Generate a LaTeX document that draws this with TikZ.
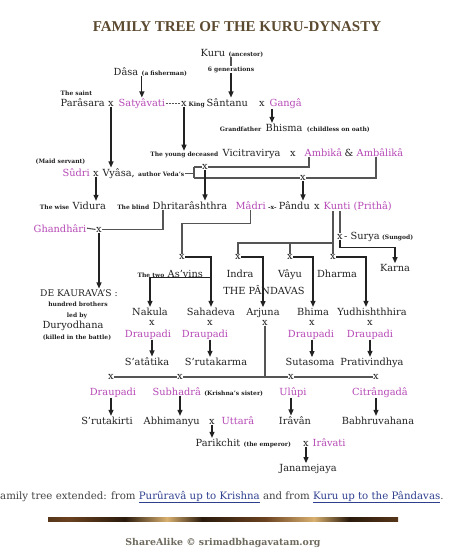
\documentclass[tikz,border=0pt]{standalone}
\usepackage{fontspec}
\setmainfont{DejaVu Serif}
\newfontfamily\titlefont{Liberation Serif}
\usepackage{xcolor}
\usetikzlibrary{arrows.meta, positioning}
\definecolor{ink}{HTML}{222222}
\definecolor{purp}{HTML}{B548B5}
\definecolor{lgray}{HTML}{555555}
\definecolor{titlebrown}{HTML}{5C4A30}
\definecolor{linkblue}{HTML}{2E3F8F}
\definecolor{creditgray}{HTML}{6E6A5E}
\definecolor{bardark}{HTML}{2A1A0C}
\definecolor{barbrown}{HTML}{6A4220}
\definecolor{bargold}{HTML}{D8B070}
\newcommand{\lnk}[1]{\textcolor{linkblue}{\underline{#1}}}
\pgfdeclarehorizontalshading{barshade}{100bp}{
  color(0bp)=(bardark); color(8bp)=(barbrown); color(13bp)=(bargold);
  color(18bp)=(bardark); color(28bp)=(barbrown); color(36bp)=(bardark);
  color(42bp)=(bargold); color(47bp)=(bardark); color(56bp)=(barbrown);
  color(63bp)=(bargold); color(68bp)=(bardark); color(78bp)=(barbrown);
  color(86bp)=(bardark); color(93bp)=(red!45!barbrown); color(100bp)=(bardark)}

\begin{document}
\begin{tikzpicture}[
    x=1pt, y=-1pt,
    person/.style={font=\fontsize{9.8}{12}\selectfont, text=ink, inner sep=0.5pt},
    wife/.style={person, text=purp},
    note/.style={font=\bfseries\fontsize{6}{7}\selectfont, text=ink, inner sep=0.5pt},
    wed/.style={font=\fontsize{9.8}{12}\selectfont, text=ink, inner sep=0.5pt},
    ln/.style={draw=lgray, line width=1.1pt},
    arr/.style={-{Triangle[length=6pt, width=5pt]}, line width=1.1pt, ink},
    foot/.style={font=\fontsize{10.2}{12}\selectfont, text=ink!85, inner sep=0pt},
  ]
    \useasboundingbox (0,0) rectangle (474,555);
    \node[font=\titlefont\bfseries\fontsize{15}{17}\selectfont, text=titlebrown, anchor=base] (title) at (237,31) {FAMILY TREE OF THE KURU-DYNASTY};

    \node[person, anchor=base west] (kuru) at (200,56) {Kuru};
    \node[note, base right=2pt of kuru] (ancestor) {(ancestor)};
    \node[note, anchor=base] (gen) at (231,71) {6 generations};
    \node[person, anchor=base west] (dasa) at (113,75) {Dâsa};
    \node[note, base right=2pt of dasa] (fisher) {(a fisherman)};

    \node[person, anchor=base west] (parasara) at (60,106) {Parâsara};
    \node[note, anchor=base west] (saint) at (60,95) {The saint};
    \node[wed, anchor=base] (w1) at (111,106) {x};
    \node[wife, anchor=base west] (satya) at (118,106) {Satyâvati};
    \node[wed, anchor=base] (w2) at (184,106) {x};
    \node[person, anchor=base west] (santanu) at (206,106) {Sântanu};
    \node[note, base left=0.5pt of santanu] (king) {King};
    \node[wed, anchor=base] (w3) at (262,106) {x};
    \node[wife, anchor=base west] (ganga) at (269,106) {Gangâ};

    \node[person, anchor=base west] (bhisma) at (265,131) {Bhisma};
    \node[note, base left=3pt of bhisma] (gfather) {Grandfather};
    \node[note, base right=3pt of bhisma] (oath) {(childless on oath)};

    \node[person, anchor=base west] (vicit) at (222,156) {Vicitravirya};
    \node[note, base left=3pt of vicit] (young) {The young deceased};
    \node[wed, anchor=base] (w4) at (293,156) {x};
    \node[wife, anchor=base west] (ambika) at (304,156) {Ambikâ};
    \node[person, anchor=base] (amp) at (349,156) {\&};
    \node[wife, anchor=base west] (ambalika) at (356,156) {Ambâlikâ};

    \node[note, anchor=base west] (maid) at (35,163) {(Maid servant)};
    \node[wife, anchor=base west] (sudri) at (62,176) {Sûdri};
    \node[wed, anchor=base] (w5) at (96,176) {x};
    \node[person, anchor=base west] (vyasa) at (102,176) {Vyâsa,};
    \node[note, base right=2pt of vyasa] (veda) {author Veda's};
    \coordinate (brk) at (194,172);
    \node[wed] (w6) at (205,167) {x};
    \node[wed] (w7) at (303,178) {x};

    \node[person, anchor=base west] (vidura) at (72,209) {Vidura};
    \node[note, base left=2pt of vidura] (wise) {The wise};
    \node[person, anchor=base west] (dhrita) at (152,209) {Dhritarâshthra};
    \node[note, base left=2pt of dhrita] (blind) {The blind};
    \node[wife, anchor=base west] (madri) at (235,209) {Mâdri};
    \node[note, base right=1pt of madri] (w8) {-x-};
    \node[person, base right=1pt of w8] (pandu) {Pându};
    \node[wed, anchor=base] (w9) at (317,209) {x};
    \node[wife, anchor=base west] (kunti) at (323,209) {Kunti (Prithâ)};

    \node[wife, anchor=base west] (gandhari) at (33,232) {Ghandhâri};
    \node[wed, anchor=base] (w10) at (99,232) {x};
    \node[wed, anchor=base] (w15) at (340,239) {x};
    \node[person, base right=0pt of w15] (surya) {- Surya};
    \node[note, base right=1pt of surya] (sungod) {(Sungod)};

    \node[wed] (w11) at (182,257) {x};
    \node[wed] (w12) at (238,257) {x};
    \node[wed] (w13) at (290,257) {x};
    \node[wed] (w14) at (333,257) {x};
    \coordinate (kb) at (333,243);

    \node[person, anchor=base west] (asvins) at (167,277) {As'vins};
    \node[note, base left=2pt of asvins] (two) {The two};
    \node[person, anchor=base] (indra) at (240,277) {Indra};
    \node[person, anchor=base] (vayu) at (290,277) {Vâyu};
    \node[person, anchor=base] (dharma) at (337,277) {Dharma};
    \node[person, anchor=base] (karna) at (395,271) {Karna};
    \node[person, anchor=base] (pandavas) at (264,294) {THE PÂNDAVAS};

    \node[person, font=\fontsize{9.2}{11}\selectfont, anchor=base] (kaurava) at (79,296) {DE KAURAVA'S :};
    \node[note, anchor=base] (hundred) at (78,306) {hundred brothers};
    \node[note, anchor=base] (ledby) at (77,317) {led by};
    \node[person, anchor=base] (duryo) at (73,328) {Duryodhana};
    \node[note, anchor=base] (killed) at (77,339) {(killed in the battle)};

    \node[person, anchor=base] (nakula) at (150,315) {Nakula};
    \node[person, anchor=base] (sahadeva) at (211,315) {Sahadeva};
    \node[person, anchor=base] (arjuna) at (263,315) {Arjuna};
    \node[person, anchor=base] (bhima) at (313,315) {Bhima};
    \node[person, anchor=base] (yudhi) at (372,315) {Yudhishthhira};
    \node[wed, anchor=base] (w16) at (152,325) {x};
    \node[wed, anchor=base] (w17) at (210,325) {x};
    \node[wed, anchor=base] (w18) at (265,325) {x};
    \node[wed, anchor=base] (w19) at (312,325) {x};
    \node[wed, anchor=base] (w20) at (370,325) {x};
    \node[wife, anchor=base] (dr1) at (148,337) {Draupadi};
    \node[wife, anchor=base] (dr2) at (205,337) {Draupadi};
    \node[wife, anchor=base] (dr3) at (311,337) {Draupadi};
    \node[wife, anchor=base] (dr4) at (370,337) {Draupadi};
    \node[person, anchor=base] (satatika) at (147,365) {S'atâtika};
    \node[person, anchor=base] (srutakarma) at (216,365) {S'rutakarma};
    \node[person, anchor=base] (sutasoma) at (310,365) {Sutasoma};
    \node[person, anchor=base] (prativ) at (372,365) {Prativindhya};

    \node[wed] (w21) at (111,377) {x};
    \node[wed] (w22) at (180,377) {x};
    \node[wed] (w23) at (291,377) {x};
    \node[wed] (w24) at (376,377) {x};
    \node[wife, anchor=base] (dr5) at (113,395) {Draupadi};
    \node[wife, anchor=base west] (subhadra) at (152,395) {Subhadrâ};
    \node[note, base right=2pt of subhadra] (sister) {(Krishna's sister)};
    \node[wife, anchor=base] (ulupi) at (293,395) {Ulûpi};
    \node[wife, anchor=base] (citra) at (380,395) {Citrângadâ};

    \node[person, anchor=base] (srutakirti) at (107,424) {S'rutakirti};
    \node[person, anchor=base west] (abhi) at (143,424) {Abhimanyu};
    \node[wed, anchor=base] (w25) at (212,424) {x};
    \node[wife, anchor=base west] (uttara) at (221,424) {Uttarâ};
    \node[person, anchor=base] (iravan) at (295,424) {Irâvân};
    \node[person, anchor=base] (babhru) at (378,424) {Babhruvahana};
    \node[person, anchor=base west] (parikchit) at (195,446) {Parikchit};
    \node[note, base right=2pt of parikchit] (emperor) {(the emperor)};
    \node[wed, anchor=base] (w26) at (306,446) {x};
    \node[wife, anchor=base west] (iravati) at (312,446) {Irâvati};
    \node[person, anchor=base] (janam) at (308,471) {Janamejaya};

    \draw[ln] (kuru.south -| gen) -- (gen.north);
    \draw[arr] (gen.south) -- (gen.south |- santanu.north);
    \draw[arr] (satya.north |- dasa.south) -- (satya.north);
    \draw[ln, dash pattern=on 2pt off 1pt] (satya.east |- w2) -- (w2.west);
    \draw[arr] (w1.south) -- (w1.south |- vyasa.north);
    \draw[arr] (w2.south) -- (w2.south |- young.north);
    \draw[arr] ([xshift=3pt]ganga.south west) -- ([xshift=3pt]ganga.south west |- bhisma.north);

    \draw[ln] (veda.east) -- (veda.east -| brk);
    \draw[ln] (w6.west -| brk) -- (w7.west -| brk);
    \draw[ln] (w6.west -| brk) -- (w6.west);
    \draw[ln] (w7.west -| brk) -- (w7.west);
    \draw[ln] (w6.east) -| ([xshift=5pt]ambika.south west);
    \draw[ln] (w7.east) -| ([xshift=-4pt]ambalika.south);
    \draw[arr] (w5.south) -- (w5.south |- vidura.north);
    \draw[arr] (w6.south) -- (w6.south |- dhrita.north);
    \draw[arr] (w7.south) -- (w7.south |- pandu.north);

    \draw[ln] (gandhari.east) -- (w10.west);
    \draw[ln] (w10.east) -| ([xshift=11pt]dhrita.south west);
    \draw[arr] (w10.south) -- (w10.south |- kaurava.north);
    \draw[ln] (madri.south) -- ++(0,14) -| (w11.north);
    \draw[arr] (w11.east) -| (sahadeva.north);
    \draw[arr] (sahadeva.north |- asvins.south) -| (nakula.north);

    \draw[ln] (kunti.south -| kb) -- (w14.north);
    \draw[ln] (kb) -| (w12.north);
    \draw[ln] (kb -| w13) -- (w13.north);
    \draw[ln] (kunti.south -| w15) -- (w15.north);
    \draw[arr] (w15.south) -- ++(0,8) -| (karna.north);
    \draw[arr] (w12.east) -| (arjuna.north);
    \draw[arr] (w13.east) -| (bhima.north);
    \draw[arr] (w14.east) -| ([xshift=-6pt]yudhi.north);

    \draw[arr] (dr1.south -| w16) -- (w16 |- satatika.north);
    \draw[arr] (dr2.south -| w17) -- (w17 |- srutakarma.north);
    \draw[arr] (dr3.south -| w19) -- (w19 |- sutasoma.north);
    \draw[arr] (dr4.south -| w20) -- (w20 |- prativ.north);

    \draw[ln] (w18.south) -- (w18.south |- w22);
    \draw[ln] (w21.east) -- (w22.west);
    \draw[ln] (w22.east) -- (w23.west);
    \draw[ln] (w23.east) -- (w24.west);
    \draw[arr] (dr5.south -| w21) -- (w21 |- srutakirti.north);
    \draw[arr] (subhadra.south -| w22) -- (w22 |- abhi.north);
    \draw[arr] (ulupi.south -| w23) -- (w23 |- iravan.north);
    \draw[arr] (citra.south -| w24) -- (w24 |- babhru.north);
    \draw[arr] (w25.south) -- (w25.south |- parikchit.north);
    \draw[arr] (w26.south) -- (w26.south |- janam.north);

    \node[foot, anchor=base west] (extended) at (0,499) {amily tree extended: from \lnk{Purûravâ up to Krishna} and from \lnk{Kuru up to the Pândavas}.};
    \shade[shading=barshade] (48,517) rectangle (398,521);
    \node[font=\bfseries\fontsize{9.4}{11}\selectfont, text=creditgray, anchor=base] (credit) at (223,545) {ShareAlike © srimadbhagavatam.org};
  \end{tikzpicture}
\end{document}
